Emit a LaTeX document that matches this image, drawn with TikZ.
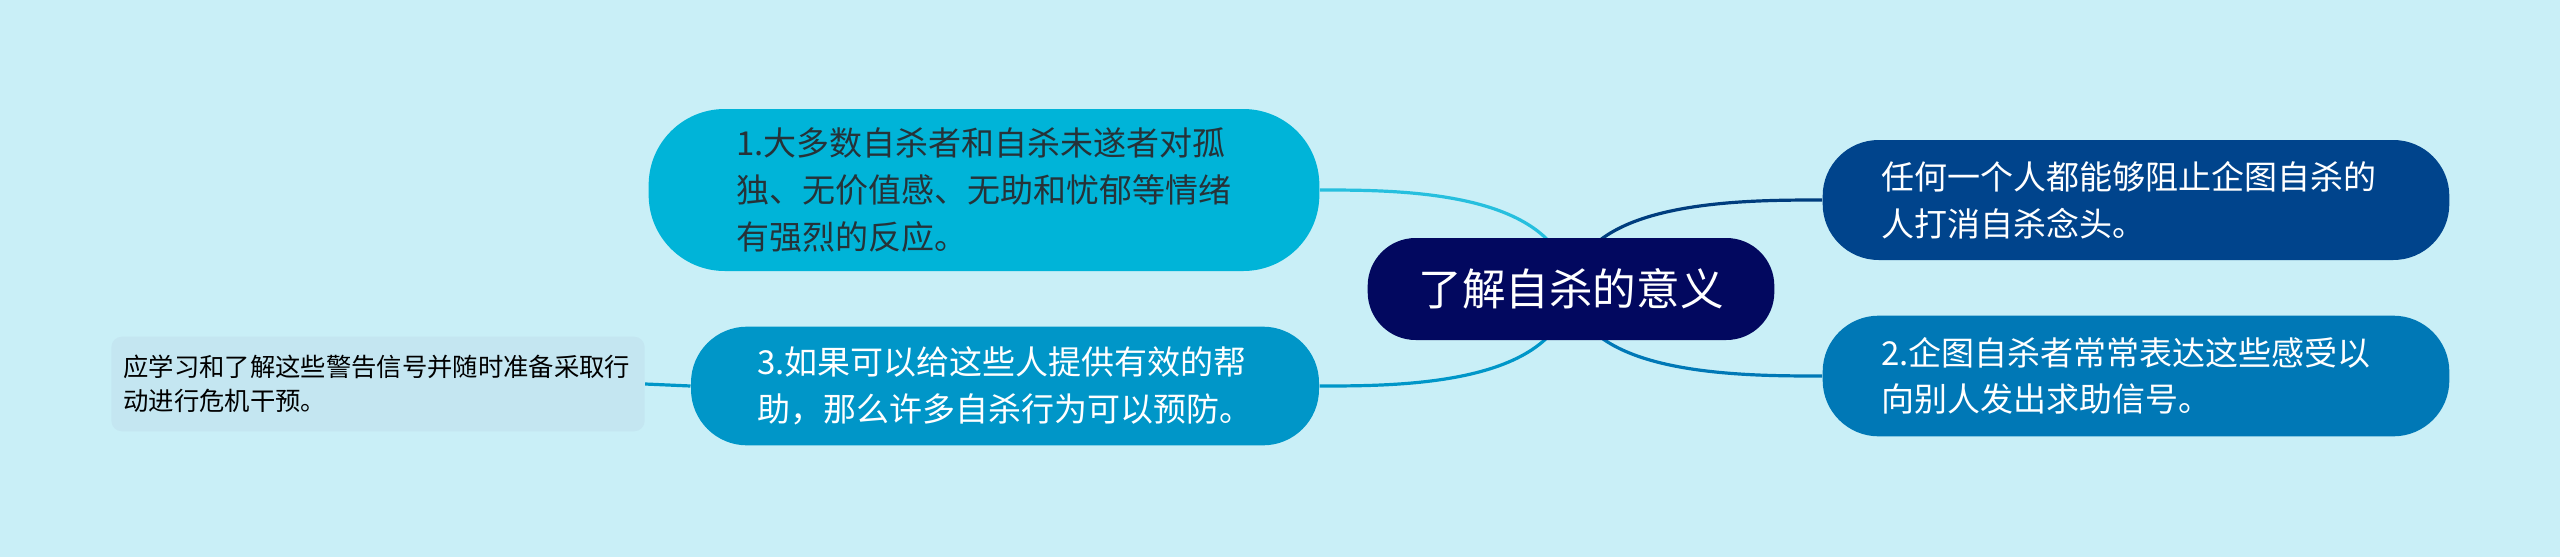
\documentclass[tikz,border=0pt]{standalone}
\usepackage{fontspec}
\setmainfont{Noto Sans CJK SC}
\usetikzlibrary{backgrounds}

\definecolor{bgcyan}{RGB}{201,239,247}
\definecolor{topicnavy}{RGB}{2,8,95}
\definecolor{lonecyan}{RGB}{0,180,216}
\definecolor{helpblue}{RGB}{0,150,200}
\definecolor{anyonenavy}{RGB}{0,68,140}
\definecolor{signalblue}{RGB}{0,120,182}
\definecolor{advicefill}{RGB}{196,230,241}
\definecolor{darktext}{RGB}{38,50,56}

\tikzset{every picture/.style={line width=0.75pt}}
\tikzset{
  pillnode/.style={inner sep=0pt, align=left, text=white,
    font=\fontsize{24.75pt}{35pt}\selectfont},
  linkline/.style={line width=2.4pt},
}

\begin{document}
\begin{tikzpicture}[x=0.75pt,y=0.75pt,yscale=-1,xscale=1]
	\useasboundingbox (0,0) rectangle (2560,557);

	% Topic
	\node (main) [fill=topicnavy, rounded corners=36pt, inner sep=0pt, text=white,
	  minimum width=305pt, minimum height=76.5pt,
	  font=\fontsize{32.7pt}{40pt}\selectfont] at (1571,289) {了解自杀的意义};

	% Text Node
	\node (lonely) [pillnode, fill=lonecyan, text=darktext, rounded corners=57pt,
	  minimum width=503pt, minimum height=121.5pt, text width=372pt] at (984,190)
	  {1.大多数自杀者和自杀未遂者对孤\\独、无价值感、无助和忧郁等情绪\\有强烈的反应。};
	% Text Node
	\node (helpful) [pillnode, fill=helpblue, rounded corners=42pt,
	  minimum width=471pt, minimum height=89pt, text width=372pt] at (1005,386)
	  {3.如果可以给这些人提供有效的帮\\助，那么许多自杀行为可以预防。};
	% Text Node
	\node (anyone) [pillnode, fill=anyonenavy, rounded corners=42pt,
	  minimum width=470pt, minimum height=90pt, text width=382pt] at (2136,200)
	  {任何一个人都能够阻止企图自杀的\\人打消自杀念头。};
	% Text Node
	\node (signals) [pillnode, fill=signalblue, rounded corners=42pt,
	  minimum width=470pt, minimum height=90.5pt, text width=382pt] at (2136,376)
	  {2.企图自杀者常常表达这些感受以\\向别人发出求助信号。};
	% Text Node
	\node (advice) [fill=advicefill, rounded corners=8pt, inner sep=0pt, align=left,
	  text=black, minimum width=400pt, minimum height=71pt, text width=382pt,
	  font=\fontsize{19pt}{25.5pt}\selectfont] at (378,384)
	  {应学习和了解这些警告信号并随时准备采取行\\动进行危机干预。};

	\begin{scope}[on background layer]
	\fill [bgcyan] (0,0) rectangle (2560,557);
	% Curves
	\draw [linkline, draw=lonecyan!85!white] (main.center) .. controls +(-11,-99) and +(81,0) .. (lonely.east);
	\draw [linkline, draw=helpblue] (main.center) .. controls +(-11,97) and +(81,0) .. (helpful.east);
	\draw [linkline, draw=anyonenavy!90!black] (main.center) .. controls +(11,-89) and +(-81,0) .. (anyone.west);
	\draw [linkline, draw=signalblue] (main.center) .. controls +(11,87) and +(-81,0) .. (signals.west);
	% Straight Lines
	\draw [linkline, draw=helpblue] (helpful.west) -- (advice.east);
	\end{scope}

\end{tikzpicture}
\end{document}
